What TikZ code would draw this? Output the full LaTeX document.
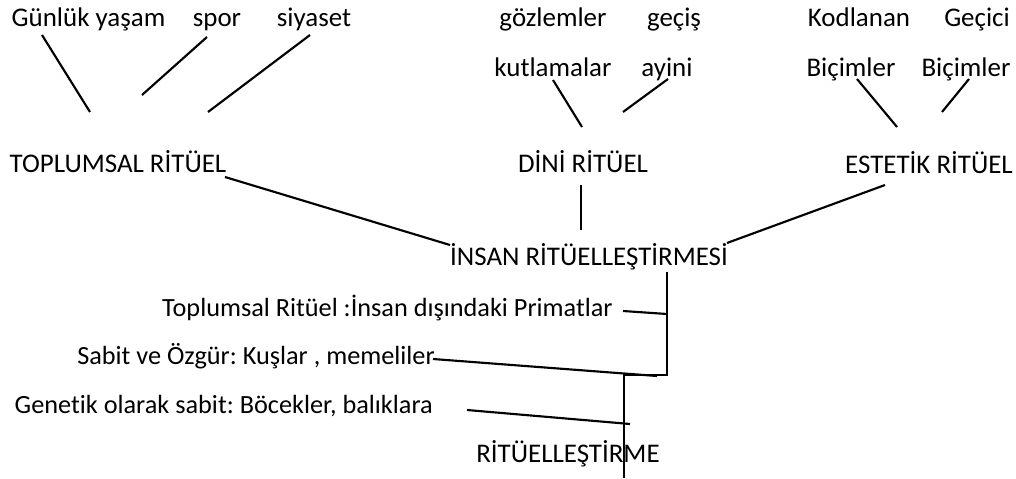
\documentclass[tikz,border=0pt]{standalone}
\usepackage{fontspec}
\setmainfont{Carlito}[Ligatures=NoCommon]
\usepackage{tikz}
\frenchspacing

\tikzset{
  lbl/.style={inner sep=0pt, anchor=base, font=\fontsize{20.2}{24}\selectfont},
  rlbl/.style={lbl, anchor=base east, font=\fontsize{19.7}{24}\selectfont},
  conn/.style={line width=1.6pt, black}
}

\begin{document}
\begin{tikzpicture}[x=0.75pt, y=-0.75pt]
            \useasboundingbox (0,0) rectangle (1016,478);

            % Top row labels
            \node[lbl] (gunluk) at (88.5,27) {Günlük yaşam};
            \node[lbl] (spor) at (217,27) {spor};
            \node[lbl] (siyaset) at (314,27) {siyaset};
            \node[lbl] (gozlem) at (553,27) {gözlemler};
            \node[lbl] (gecis) at (674,27) {geçiş};
            \node[lbl] (kodlanan) at (859,27) {Kodlanan};
            \node[lbl] (gecici) at (977,27) {Geçici};

            % Second row labels
            \node[lbl] (kutlama) at (553,77) {kutlamalar};
            \node[lbl] (ayini) at (667,77) {ayini};
            \node[lbl] (bicimA) at (851,77) {Biçimler};
            \node[lbl] (bicimB) at (966,77) {Biçimler};

            % Ritual kinds
            \node[lbl] (toplumsal) at (118,172) {TOPLUMSAL RİTÜEL};
            \node[lbl] (dini) at (583,172) {DİNİ RİTÜEL};
            \node[lbl] (estetik) at (929,173) {ESTETİK RİTÜEL};
            \node[lbl] (insan) at (589,265) {İNSAN RİTÜELLEŞTİRMESİ};

            % Lower labels
            \node[rlbl] (primat) at (613,316) {Toplumsal Ritüel :İnsan dışındaki Primatlar};
            \node[rlbl] (sabit) at (435,364) {Sabit ve Özgür: Kuşlar , memeliler};
            \node[rlbl] (genetik) at (433,413) {Genetik olarak sabit: Böcekler, balıklara};
            \node[lbl] (rituel) at (568,462) {RİTÜELLEŞTİRME};

            % Line ends
            \coordinate (g1) at (42,35);    \coordinate (g2) at (90,112);
            \coordinate (s1) at (207,37);   \coordinate (s2) at (142,95);
            \coordinate (y1) at (310,35);   \coordinate (y2) at (208,112);
            \coordinate (k1) at (553,80);   \coordinate (k2) at (582,127);
            \coordinate (a1) at (668,79);   \coordinate (a2) at (623,112);
            \coordinate (b1) at (857,79);   \coordinate (b2) at (897,127);
            \coordinate (c1) at (969,79);   \coordinate (c2) at (942,112);
            \coordinate (t1) at (225,177);  \coordinate (t2) at (450,245);
            \coordinate (d1) at (581,185);  \coordinate (d2) at (581,230);
            \coordinate (e1) at (885,185);  \coordinate (e2) at (727,243);
            \coordinate (i1) at (667,272);  \coordinate (i2) at (667,375);
            \coordinate (i3) at (623,375);
            \coordinate (p1) at (623,311);  \coordinate (p2) at (667,314);
            \coordinate (m1) at (433,359);  \coordinate (m2) at (657,376);
            \coordinate (r1) at (624,375);  \coordinate (r2) at (624,478);
            \coordinate (n1) at (467,410);  \coordinate (n2) at (630,424);

            % Lines
            \draw[conn] (g1) -- (g2);
            \draw[conn] (s1) -- (s2);
            \draw[conn] (y1) -- (y2);
            \draw[conn] (k1) -- (k2);
            \draw[conn] (a1) -- (a2);
            \draw[conn] (b1) -- (b2);
            \draw[conn] (c1) -- (c2);
            \draw[conn] (t1) -- (t2);
            \draw[conn] (d1) -- (d2);
            \draw[conn] (e1) -- (e2);
            \draw[conn] (i1) -- (i2) -- (i3);
            \draw[conn] (p1) -- (p2);
            \draw[conn] (m1) -- (m2);
            \draw[conn] (r1) -- (r2);
            \draw[conn] (n1) -- (n2);
        \end{tikzpicture}
\end{document}
